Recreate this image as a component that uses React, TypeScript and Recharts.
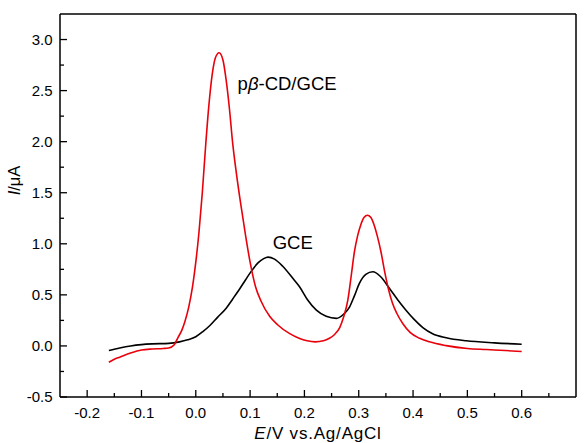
import { LineChart, Line, XAxis, YAxis, ReferenceDot } from 'recharts';

// pβ-CD/GCE (red) and bare GCE (black) voltammograms
const redX = [
  -0.16, -0.15, -0.14, -0.12, -0.1, -0.08, -0.06, -0.05, -0.04, -0.033, -0.026, -0.02, -0.013, -0.006, 0.0,
  0.006, 0.012, 0.018, 0.024, 0.03, 0.036, 0.043, 0.05, 0.056, 0.062, 0.068, 0.075, 0.083, 0.092, 0.1, 0.11,
  0.12, 0.136, 0.15, 0.173, 0.19, 0.205, 0.22, 0.235, 0.246, 0.255, 0.265, 0.272, 0.28, 0.286, 0.292, 0.298,
  0.304, 0.31, 0.316, 0.322, 0.328, 0.334, 0.341, 0.348, 0.355, 0.362, 0.37, 0.381, 0.395, 0.412, 0.43, 0.461,
  0.5, 0.535, 0.57, 0.6,
];
const redY = [
  -0.16, -0.13, -0.11, -0.07, -0.04, -0.03, -0.025, -0.02, 0.01, 0.08, 0.15, 0.24, 0.38, 0.58, 0.82,
  1.12, 1.5, 1.95, 2.35, 2.65, 2.82, 2.87, 2.8, 2.6, 2.32, 1.98, 1.68, 1.38, 1.07, 0.82, 0.58,
  0.44, 0.29, 0.21, 0.12, 0.075, 0.05, 0.04, 0.05, 0.075, 0.11, 0.18, 0.28, 0.45, 0.68, 0.92, 1.08,
  1.19, 1.26, 1.28, 1.26, 1.19, 1.08, 0.92, 0.72, 0.55, 0.42, 0.32, 0.22, 0.13, 0.075, 0.04, 0.003,
  -0.025, -0.035, -0.045, -0.055,
];

const blackX = [
  -0.16, -0.14, -0.12, -0.1, -0.08, -0.05, -0.03, -0.015, 0.0, 0.013, 0.026, 0.04, 0.056, 0.068, 0.081, 0.092,
  0.102, 0.115, 0.125, 0.133, 0.145, 0.16, 0.179, 0.191, 0.206, 0.222, 0.24, 0.259, 0.272, 0.283, 0.292, 0.301,
  0.313, 0.326, 0.34, 0.357, 0.372, 0.387, 0.402, 0.418, 0.436, 0.461, 0.498, 0.55, 0.6,
];
const blackY = [
  -0.045, -0.02, 0.0, 0.013, 0.02, 0.025, 0.04, 0.06, 0.09, 0.14, 0.2, 0.28, 0.37, 0.46, 0.56, 0.65,
  0.73, 0.815, 0.855, 0.87, 0.85, 0.78, 0.66, 0.58, 0.45, 0.35, 0.29, 0.27, 0.31, 0.38, 0.49, 0.61,
  0.7, 0.726, 0.68, 0.56, 0.45, 0.35, 0.26, 0.18, 0.12, 0.08, 0.05, 0.03, 0.017,
];

const xTicks = [-0.2, -0.15, -0.1, -0.05, 0, 0.05, 0.1, 0.15, 0.2, 0.25, 0.3, 0.35, 0.4, 0.45, 0.5, 0.55, 0.6, 0.65];
const yTicks = [-0.5, -0.25, 0, 0.25, 0.5, 0.75, 1, 1.25, 1.5, 1.75, 2, 2.25, 2.5, 2.75, 3];

const redData = redX.map((x, i) => ({ x, y: redY[i] }));
const blackData = blackX.map((x, i) => ({ x, y: blackY[i] }));

const FONT = 'Liberation Sans, Arial, sans-serif';

const XTick = (props: any) => {
  const { x, y, payload } = props;
  const v = payload.value;
  const major = Math.abs(v * 10 - Math.round(v * 10)) < 1e-6;
  return (
    <g>
      <line x1={x} x2={x} y1={y} y2={y - (major ? 7 : 4)} stroke="#000" strokeWidth={1.3} />
      {major && (
        <text x={x} y={y + 20.5} textAnchor="middle" fontSize={15} fontFamily={FONT} fill="#000">
          {v.toFixed(1)}
        </text>
      )}
    </g>
  );
};

const YTick = (props: any) => {
  const { x, y, payload } = props;
  const v = payload.value;
  const major = Math.abs(v * 2 - Math.round(v * 2)) < 1e-6;
  return (
    <g>
      <line x1={x} x2={x + (major ? 7 : 4)} y1={y} y2={y} stroke="#000" strokeWidth={1.3} />
      {major && (
        <text x={x - 7.5} y={y + 5.3} textAnchor="end" fontSize={15} fontFamily={FONT} fill="#000">
          {v.toFixed(1)}
        </text>
      )}
    </g>
  );
};

const XLabel = (props: any) => {
  const { x, y, width } = props.viewBox;
  return (
    <text
      x={x + width / 2}
      y={y + 41.5}
      textAnchor="middle"
      fontSize={17}
      letterSpacing={0.8}
      fontFamily={FONT}
      fill="#000"
    >
      <tspan fontStyle="italic">E</tspan>/V vs.Ag/AgCl
    </text>
  );
};

const YLabel = (props: any) => {
  const { x, y, width, height } = props.viewBox;
  const cx = x + width - 40;
  const cy = y + height / 2 - 25;
  return (
    <text
      x={cx}
      y={cy}
      transform={`rotate(-90 ${cx} ${cy})`}
      textAnchor="middle"
      fontSize={16.5}
      fontFamily={FONT}
      fill="#000"
    >
      <tspan fontStyle="italic">I</tspan>/μA
    </text>
  );
};

const Note = ({ children }: { children: any }) => (props: any) => {
  const { x, y } = props.viewBox;
  return (
    <text x={x} y={y + 6.5} fontSize={18.5} fontFamily={FONT} fill="#000">
      {children}
    </text>
  );
};

export default function App() {
  return (
    <div style={{ position: 'absolute', left: 0, top: 0, background: '#fff' }}>
      <LineChart width={587} height={443} margin={{ top: 0, right: 0, bottom: 0, left: 0 }}>
        <XAxis
          dataKey="x"
          type="number"
          domain={[-0.25, 0.7]}
          ticks={xTicks}
          interval={0}
          height={46}
          tickSize={0}
          tickMargin={0}
          tickLine={false}
          tick={<XTick />}
          axisLine={{ stroke: '#000', strokeWidth: 1.5 }}
          allowDataOverflow
          label={<XLabel />}
        />
        <XAxis
          xAxisId="top"
          orientation="top"
          type="number"
          domain={[-0.25, 0.7]}
          height={14}
          tick={false}
          tickLine={false}
          axisLine={{ stroke: '#000', strokeWidth: 1.5 }}
        />
        <YAxis
          type="number"
          domain={[-0.5, 3.25]}
          ticks={yTicks}
          interval={0}
          width={60}
          tickSize={0}
          tickMargin={0}
          tickLine={false}
          tick={<YTick />}
          axisLine={{ stroke: '#000', strokeWidth: 1.5 }}
          allowDataOverflow
          label={<YLabel />}
        />
        <YAxis
          yAxisId="right"
          orientation="right"
          type="number"
          domain={[-0.5, 3.25]}
          width={11}
          tick={false}
          tickLine={false}
          axisLine={{ stroke: '#000', strokeWidth: 1.5 }}
        />
        <Line
          data={blackData}
          dataKey="y"
          type="monotone"
          stroke="#000"
          strokeWidth={1.6}
          dot={false}
          isAnimationActive={false}
        />
        <Line
          data={redData}
          dataKey="y"
          type="monotone"
          stroke="#e8000b"
          strokeWidth={1.6}
          dot={false}
          isAnimationActive={false}
        />
        <ReferenceDot
          x={0.077}
          y={2.57}
          r={0}
          stroke="none"
          fill="none"
          label={Note({
            children: (
              <>
                p<tspan fontStyle="italic">β</tspan>-CD/GCE
              </>
            ),
          })}
        />
        <ReferenceDot x={0.1415} y={1.016} r={0} stroke="none" fill="none" label={Note({ children: 'GCE' })} />
      </LineChart>
    </div>
  );
}
